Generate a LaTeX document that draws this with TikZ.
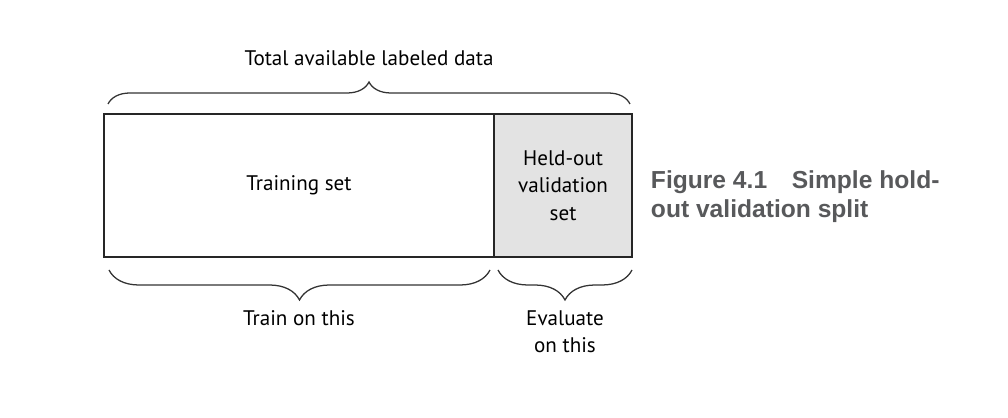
\documentclass[tikz,border=0pt]{standalone}
\usepackage{fontspec}
\setmainfont{PT Sans}
\newfontfamily\capfont{Liberation Sans}
\usepackage{xcolor}
\usetikzlibrary{positioning,decorations.pathreplacing}
\definecolor{capgray}{HTML}{58595B}

\begin{document}
\begin{tikzpicture}[x=0.025cm, y=0.025cm,
    part/.style={rectangle, draw=black!85, line width=1.2pt, minimum height=3.575cm, align=center, inner sep=0pt, outer sep=0pt, font=\fontsize{15}{19.5}\selectfont},
    brace/.style={decorate, decoration={brace, amplitude=#1}, draw=black!80, line width=0.9pt},
    label/.style={align=center, font=\fontsize{15}{19.5}\selectfont}
]
\useasboundingbox (0,0) rectangle (1008,-418);

% Data split
\node[part, minimum width=9.75cm] (train) at (299,-185.5) {Training set};
\node[part, minimum width=3.45cm, fill=black!11, right=0pt of train] (heldout) {Held-out\\validation\\set};

% Brace ends
\coordinate (allL) at (108,-104);
\coordinate (allR) at (630,-104);
\coordinate (trainL) at (109,-270);
\coordinate (trainR) at (490,-270);
\coordinate (evalL) at (498,-270);
\coordinate (evalR) at (632,-270);

% Braces
\draw[brace=0.55cm] (allL) -- (allR);
\draw[brace=0.75cm, decoration={mirror}] (trainL) -- (trainR);
\draw[brace=0.75cm, decoration={mirror}] (evalL) -- (evalR);

% Labels
\node[label] (total) at (369,-58) {Total available labeled data};
\node[label] (trainon) at (299,-318) {Train on this};
\node[label] (evalon) at (565,-332) {Evaluate\\on this};

% Caption
\node[anchor=west, align=left, text=capgray, font=\capfont\bfseries\fontsize{17.5}{20.6}\selectfont] (caption) at (646,-197) {Figure 4.1\quad Simple hold-\\out validation split};

\end{tikzpicture}
\end{document}
